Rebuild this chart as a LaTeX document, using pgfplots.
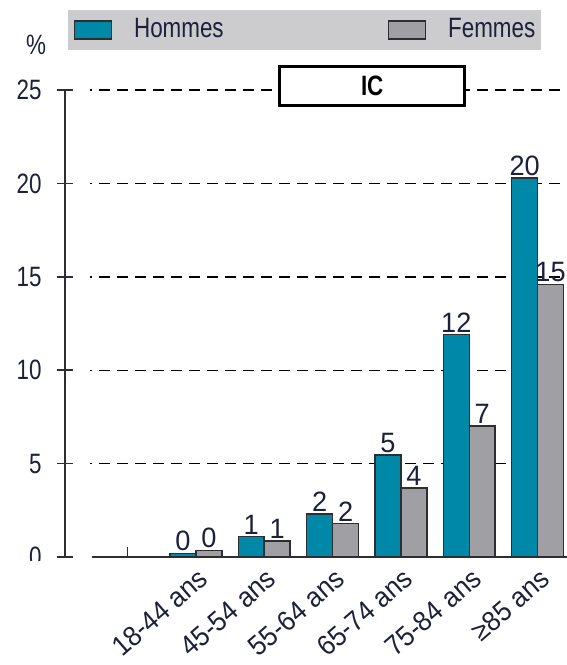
\documentclass[border=0pt]{standalone}
\usepackage{pgfplots}
\pgfplotsset{compat=1.18}
\usepackage{fontspec}
\setmainfont[FakeStretch=0.8]{Liberation Sans}
\newfontfamily\labfont[FakeStretch=0.93]{Liberation Sans}
\newfontfamily\valfont[FakeStretch=0.97]{Liberation Sans}
\definecolor{teal1}{RGB}{0,136,168}
\definecolor{grey1}{RGB}{160,160,164}
\definecolor{txt}{RGB}{28,32,58}
\definecolor{band}{RGB}{204,204,206}
\definecolor{edge}{RGB}{45,45,50}
\pgfplotsset{mylegend/.style={legend image code/.code={\draw[##1, line width=1.5pt] (0pt,-9pt) rectangle (37pt,9pt);}}}
\begin{document}
\fontsize{28}{32}\selectfont
\begin{tikzpicture}
\useasboundingbox (-65pt,-108pt) rectangle (502pt,557pt);
\begin{axis}[
  at={(0pt,0pt)}, anchor=south west,
  scale only axis, width=502pt, height=467pt,
  xmin=-0.915, xmax=6.43, ymin=0, ymax=25,
  enlargelimits=false,
  clip=false,
  axis y line*=left, axis x line*=bottom,
  x axis line style={draw=none},
  y axis line style={line width=1.5pt, edge},
  ytick={0,5,10,15,20,25},
  tick align=center, major tick length=16pt,
  ytick style={line width=1.5pt, edge},
  xtick={1,2,3,4,5,6}, x tick style={draw=none},
  xticklabels={18-44 ans, 45-54 ans, 55-64 ans, 65-74 ans, 75-84 ans, ≥85 ans},
  xticklabel style={rotate=41, anchor=east, text=txt, font=\labfont, xshift=14pt, yshift=-6pt},
  yticklabel style={text=txt, xshift=-6pt},
  /pgf/number format/assume math mode=true,
  ybar=0pt, bar width=0.38,
  nodes near coords, point meta=explicit symbolic,
  nodes near coords style={text=txt, inner sep=1.5pt, font=\valfont},
  legend columns=2,
  legend style={at={(0.477,1.128)}, anchor=center, fill=band, draw=none,
    inner xsep=6pt, inner ysep=6pt, text=txt,
    nodes={inner xsep=0pt},
    /tikz/every odd column/.append style={column sep=22pt},
    /tikz/every even column/.append style={column sep=164pt}},
]
\pgfplotsinvokeforeach{5,10,15,20,25}{
  \draw[line width=1.4pt, black, dash pattern=on 11pt off 7pt, dash phase=9pt]
    (axis cs:-0.55,#1) -- (axis cs:6.43,#1);
}
\addplot[fill=teal1, draw=edge, line width=1.5pt, mylegend]
  coordinates {(1,0.2)[0] (2,1.1)[1] (3,2.3)[2] (4,5.45)[5] (5,11.9)[12] (6,20.3)[20]};
\addplot[fill=grey1, draw=edge, line width=1.5pt, mylegend]
  coordinates {(1,0.35)[0] (2,0.85)[1] (3,1.8)[2] (4,3.7)[4] (5,7.0)[7] (6,14.6)[15]};
\legend{Hommes, Femmes}
\draw[line width=1.5pt, edge] (axis cs:-0.52,0) -- (axis cs:6.43,0);
\draw[line width=1.5pt, edge] (axis cs:0,0) -- ++(0pt,10pt);
\node[draw=black, line width=3pt, fill=white, minimum width=185pt, minimum height=34pt,
  font=\bfseries, text=black] at (axis cs:3.58,25) [yshift=4pt] {IC};
\end{axis}
\node[text=txt] at (-29pt,512pt) {\%};
\fill[white] (-65pt,-108pt) rectangle (24pt,-4pt);
\end{tikzpicture}
\end{document}
